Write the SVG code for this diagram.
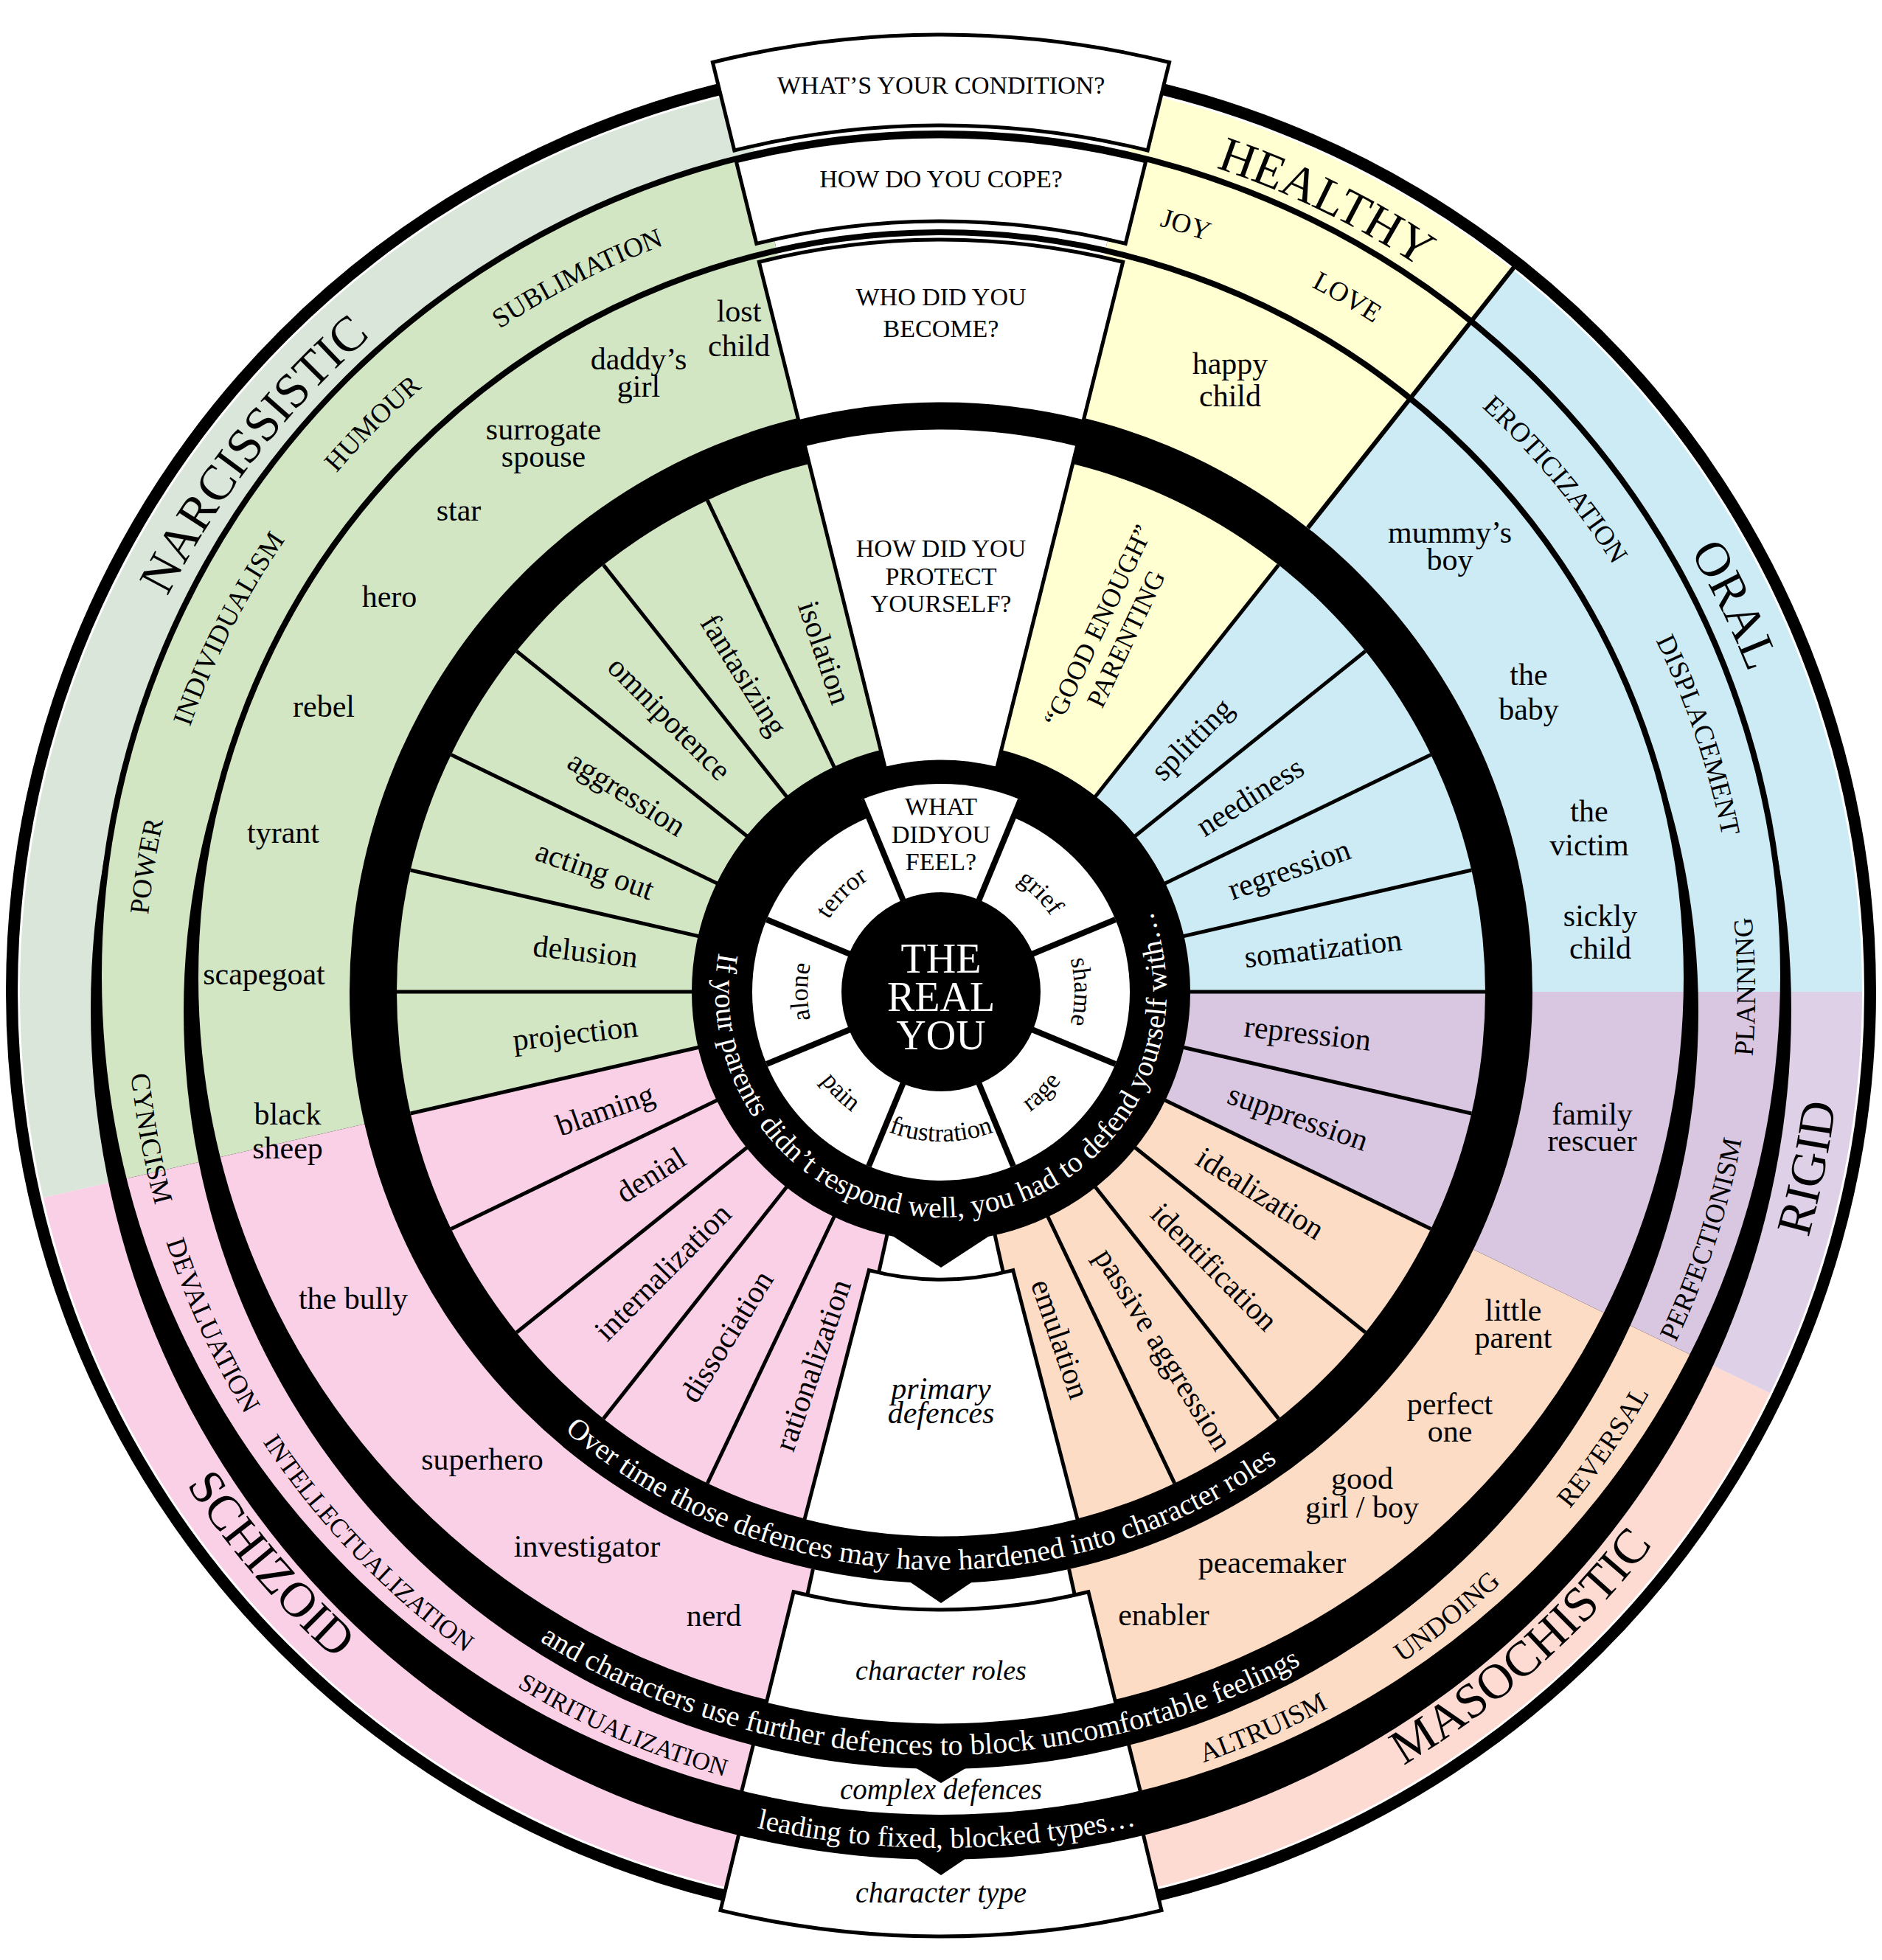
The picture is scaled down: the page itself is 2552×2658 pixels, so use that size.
<svg xmlns="http://www.w3.org/2000/svg" width="2552" height="2658" viewBox="0 0 2552 2658">
<style>
.t{font-family:"Liberation Serif","Times New Roman",serif;fill:#000}
.wt{fill:#fff}
.lb{font-size:42px}
.pl{font-size:42px}
.cl{font-size:37px}
.ty{font-size:67px}
.em{font-size:35px}
.bd{font-size:40px}
.q{font-size:34px}
.it{font-style:italic}
.box{fill:#fff;stroke:#000;stroke-width:5}
.k{fill:#000}
</style>
<defs>
<g id="pies">
<path fill="#cdebf4" d="M1276,1345 L2576,1345 A1300,1300 0 0 0 2082.3,325.3 Z"/>
<path fill="#ffffd1" d="M1276,1345 L2082.3,325.3 A1300,1300 0 0 0 1557.3,75.8 Z"/>
<path fill="#ffffff" d="M1276,1345 L1557.3,75.8 A1300,1300 0 0 0 994.7,75.8 Z"/>
<path fill="#d3e6c4" d="M1276,1345 L994.7,75.8 A1300,1300 0 0 0 8.9,1635.6 Z"/>
<path fill="#fad0e7" d="M1276,1345 L8.9,1635.6 A1300,1300 0 0 0 994.7,2614.2 Z"/>
<path fill="#ffffff" d="M1276,1345 L994.7,2614.2 A1300,1300 0 0 0 1557.3,2614.2 Z"/>
<path fill="#fddcc5" d="M1276,1345 L1557.3,2614.2 A1300,1300 0 0 0 2446.1,1911.5 Z"/>
<path fill="#d9c6e1" d="M1276,1345 L2446.1,1911.5 A1300,1300 0 0 0 2576,1345 Z"/>
</g>
<clipPath id="cO"><circle cx="1276" cy="1345" r="1249"/></clipPath>
<clipPath id="cC"><circle cx="1276" cy="1323" r="1142"/></clipPath>
<clipPath id="cR"><circle cx="1276" cy="1326" r="1011"/></clipPath>
<clipPath id="cP"><circle cx="1276" cy="1345" r="738"/></clipPath>
<line id="ray" x1="1276" y1="1345" x2="2014" y2="1345" stroke="#000" stroke-width="5"/>
<line id="eray" x1="1276" y1="1345" x2="1532" y2="1345" stroke="#000" stroke-width="8"/>
<line id="eray2" x1="1276" y1="1345" x2="1558" y2="1345" stroke="#000" stroke-width="8"/>
<path id="e_cw" d="M1276,1526 A181,181 0 1 1 1276,1164 A181,181 0 1 1 1276,1526"/>
<path id="e_ccw" d="M1276,1142 A203,203 0 1 0 1276,1548 A203,203 0 1 0 1276,1142"/>
<path id="b1" d="M1276,1039 A306,306 0 1 0 1276,1651 A306,306 0 1 0 1276,1039"/>
<path id="bt" d="M1276,561 A784,784 0 1 0 1276,2129 A784,784 0 1 0 1276,561"/>
<path id="b2" d="M1276,310 A1035,1035 0 1 0 1276,2380 A1035,1035 0 1 0 1276,310"/>
<path id="b3" d="M1276,184 A1161,1161 0 1 0 1276,2506 A1161,1161 0 1 0 1276,184"/>
<path id="c_cw" d="M1276,2425 A1080,1080 0 1 1 1276,265 A1080,1080 0 1 1 1276,2425"/>
<path id="c_ccw" d="M1276,241 A1104,1104 0 1 0 1276,2449 A1104,1104 0 1 0 1276,241"/>
<path id="o_cw" d="M1276,2523 A1178,1178 0 1 1 1276,167 A1178,1178 0 1 1 1276,2523"/>
<path id="o_ccw" d="M1276,123 A1222,1222 0 1 0 1276,2567 A1222,1222 0 1 0 1276,123"/>
</defs>
<rect width="2552" height="2658" fill="#fff"/>

<g id="ring-types">
<g clip-path="url(#cO)">
<path fill="#cdebf4" d="M1276,1345 L2576,1345 A1300,1300 0 0 0 2082.3,325.3 Z"/>
<path fill="#ffffd1" d="M1276,1345 L2082.3,325.3 A1300,1300 0 0 0 1557.3,75.8 Z"/>
<path fill="#d9e6d9" d="M1276,1345 L994.7,75.8 A1300,1300 0 0 0 8.9,1635.6 Z"/>
<path fill="#fad0e7" d="M1276,1345 L8.9,1635.6 A1300,1300 0 0 0 994.7,2614.2 Z"/>
<path fill="#fddbd3" d="M1276,1345 L1557.3,2614.2 A1300,1300 0 0 0 2446.1,1911.5 Z"/>
<path fill="#ded1e7" d="M1276,1345 L2446.1,1911.5 A1300,1300 0 0 0 2576,1345 Z"/>
</g>
<circle cx="1276" cy="1345" r="1260" fill="none" stroke="#000" stroke-width="16"/>
<path id="box-condition" class="box" d="M1585.6,84.5 A1298,1298 0 0 0 966.4,84.5 L995.8,204 A1175,1175 0 0 1 1556.2,204 Z"/>
<path id="box-type" class="box" d="M977,2590.6 A1281,1281 0 0 0 1575,2590.6 L1544.4,2463.3 A1150,1150 0 0 1 1007.6,2463.3 Z"/>
<circle class="k" cx="1276" cy="1369" r="1153"/>
</g>

<g id="ring-complex">
<g clip-path="url(#cC)">
<use href="#pies"/>
<path class="box" d="M985.7,2509.4 A1200,1200 0 0 0 1566.3,2509.4 L1526.4,2349.3 A1035,1035 0 0 1 1025.6,2349.3 Z"/>
</g>
<circle cx="1276" cy="1323" r="1142" fill="none" stroke="#000" stroke-width="8"/>
<circle class="k" cx="1276" cy="1372" r="1027"/>
</g>

<g id="ring-roles">
<g clip-path="url(#cR)"><use href="#pies"/></g>
<circle cx="1276" cy="1326" r="1011" fill="none" stroke="#000" stroke-width="8"/>
<line x1="1102.4" y1="2128" x2="1094.2" y2="2165.1" stroke="#000" stroke-width="5"/>
<line x1="1449.6" y1="2128" x2="1457.8" y2="2165.1" stroke="#000" stroke-width="5"/>
<path id="box-roles" class="box" d="M1038.7,2311.2 A995,995 0 0 0 1513.3,2311.2 L1475.9,2158.8 A838,838 0 0 1 1076.1,2158.8 Z"/>
<line x1="1773.4" y1="715.9" x2="2057.5" y2="356.7" stroke="#000" stroke-width="6"/>
<circle class="k" cx="1276" cy="1345" r="802"/>
</g>

<g id="ring-primary">
<g clip-path="url(#cP)"><use href="#pies"/></g>
<use href="#ray"/>
<use href="#ray" transform="rotate(-12.917 1276 1345)"/>
<use href="#ray" transform="rotate(-25.833 1276 1345)"/>
<use href="#ray" transform="rotate(-38.75 1276 1345)"/>
<use href="#ray" transform="rotate(-51.667 1276 1345)"/>
<use href="#ray" transform="rotate(-77.5 1276 1345)"/>
<use href="#ray" transform="rotate(-102.5 1276 1345)"/>
<use href="#ray" transform="rotate(-115.417 1276 1345)"/>
<use href="#ray" transform="rotate(-128.333 1276 1345)"/>
<use href="#ray" transform="rotate(-141.25 1276 1345)"/>
<use href="#ray" transform="rotate(-154.167 1276 1345)"/>
<use href="#ray" transform="rotate(-167.083 1276 1345)"/>
<use href="#ray" transform="rotate(-180 1276 1345)"/>
<use href="#ray" transform="rotate(-192.917 1276 1345)"/>
<use href="#ray" transform="rotate(-205.833 1276 1345)"/>
<use href="#ray" transform="rotate(-218.75 1276 1345)"/>
<use href="#ray" transform="rotate(-231.667 1276 1345)"/>
<use href="#ray" transform="rotate(-244.583 1276 1345)"/>
<use href="#ray" transform="rotate(-257.5 1276 1345)"/>
<use href="#ray" transform="rotate(-282.5 1276 1345)"/>
<use href="#ray" transform="rotate(-295.417 1276 1345)"/>
<use href="#ray" transform="rotate(-308.333 1276 1345)"/>
<use href="#ray" transform="rotate(-321.25 1276 1345)"/>
<use href="#ray" transform="rotate(-334.167 1276 1345)"/>
<use href="#ray" transform="rotate(-347.083 1276 1345)"/>
<circle class="k" cx="1276" cy="1345" r="338"/>
</g>

<g id="ring-feelings">
<circle cx="1276" cy="1345" r="256" fill="#fff"/>
<path fill="#fff" d="M1276,1345 L1383.9,1084.5 A282,282 0 0 0 1168.1,1084.5 Z"/>
<use href="#eray" transform="rotate(-22.5 1276 1345)"/>
<use href="#eray2" transform="rotate(-67.5 1276 1345)"/>
<use href="#eray2" transform="rotate(-112.5 1276 1345)"/>
<use href="#eray" transform="rotate(-157.5 1276 1345)"/>
<use href="#eray" transform="rotate(-202.5 1276 1345)"/>
<use href="#eray" transform="rotate(-247.5 1276 1345)"/>
<use href="#eray" transform="rotate(-292.5 1276 1345)"/>
<use href="#eray" transform="rotate(-337.5 1276 1345)"/>
<circle class="k" cx="1276" cy="1345" r="135"/>
</g>

<g id="question-boxes">
<path id="box-protect" class="box" d="M1461.1,602.7 A765,765 0 0 0 1090.9,602.7 L1200.5,1042.3 A312,312 0 0 1 1351.5,1042.3 Z"/>
<path id="box-become" class="box" d="M1522.7,355.3 A1020,1020 0 0 0 1029.3,355.3 L1083.2,571.7 A797,797 0 0 1 1468.8,571.7 Z"/>
<path id="box-cope" class="box" d="M1553.7,218.8 A1160,1160 0 0 0 998.3,218.8 L1025.8,330.4 A1045,1045 0 0 1 1526.2,330.4 Z"/>
<path id="box-primary" class="box" d="M1090.5,2062.4 A741,741 0 0 0 1461.5,2062.4 L1373.7,1722.6 A390,390 0 0 1 1178.3,1722.6 Z"/>
</g>

<g id="connectors">
<polygon class="k" points="1198,1668 1354,1668 1276,1719"/>
<polygon class="k" points="1226,2140 1326,2140 1276,2174"/>
<polygon class="k" points="1236,2394 1316,2394 1276,2418"/>
<polygon class="k" points="1236,2516 1316,2516 1276,2543"/>
</g>

<g id="center" class="t" text-anchor="middle">
<text class="wt" x="1276" y="1319" font-size="56">THE</text>
<text class="wt" x="1276" y="1371" font-size="56">REAL</text>
<text class="wt" x="1276" y="1423" font-size="56">YOU</text>
<text class="q" x="1276" y="1105">WHAT</text>
<text class="q" x="1276" y="1143">DIDYOU</text>
<text class="q" x="1276" y="1180">FEEL?</text>
</g>

<g id="feelings" class="t em" text-anchor="middle">
<text><textPath href="#e_cw" startOffset="37.5%">terror</textPath></text>
<text><textPath href="#e_cw" startOffset="62.5%">grief</textPath></text>
<text><textPath href="#e_cw" startOffset="75%">shame</textPath></text>
<text><textPath href="#e_cw" startOffset="25%">alone</textPath></text>
<text><textPath href="#e_ccw" startOffset="62.5%">rage</textPath></text>
<text><textPath href="#e_ccw" startOffset="50%">frustration</textPath></text>
<text><textPath href="#e_ccw" startOffset="37.5%">pain</textPath></text>
</g>

<g id="band-texts" class="t bd wt" text-anchor="middle">
<g id="band-defend">
<text class="wt"><textPath href="#b1" startOffset="440.3">If</textPath></text>
<text class="wt"><textPath href="#b1" startOffset="500.3">your</textPath></text>
<text class="wt"><textPath href="#b1" startOffset="604.7">parents</textPath></text>
<text class="wt"><textPath href="#b1" startOffset="720.3">didn’t</textPath></text>
<text class="wt"><textPath href="#b1" startOffset="841.4">respond</textPath></text>
<text class="wt"><textPath href="#b1" startOffset="954.1">well,</textPath></text>
<text class="wt"><textPath href="#b1" startOffset="1033.6">you</textPath></text>
<text class="wt"><textPath href="#b1" startOffset="1102.4">had</textPath></text>
<text class="wt"><textPath href="#b1" startOffset="1156.9">to</textPath></text>
<text class="wt"><textPath href="#b1" startOffset="1236.9">defend</textPath></text>
<text class="wt"><textPath href="#b1" startOffset="1366.8">yourself</textPath></text>
<text class="wt"><textPath href="#b1" startOffset="1497.9">with…</textPath></text>
</g>
<g id="band-roles">
<text class="wt"><textPath href="#bt" startOffset="1947">Over</textPath></text>
<text class="wt"><textPath href="#bt" startOffset="2032.5">time</textPath></text>
<text class="wt"><textPath href="#bt" startOffset="2120.3">those</textPath></text>
<text class="wt"><textPath href="#bt" startOffset="2242.5">defences</textPath></text>
<text class="wt"><textPath href="#bt" startOffset="2356.9">may</textPath></text>
<text class="wt"><textPath href="#bt" startOffset="2439.1">have</textPath></text>
<text class="wt"><textPath href="#bt" startOffset="2560.1">hardened</textPath></text>
<text class="wt"><textPath href="#bt" startOffset="2674.6">into</textPath></text>
<text class="wt"><textPath href="#bt" startOffset="2789">character</textPath></text>
<text class="wt"><textPath href="#bt" startOffset="2911.1">roles</textPath></text>
</g>
<g id="band-further">
<text class="wt"><textPath href="#b2" startOffset="2707">and</textPath></text>
<text class="wt"><textPath href="#b2" startOffset="2826.9">characters</textPath></text>
<text class="wt"><textPath href="#b2" startOffset="2944.6">use</textPath></text>
<text class="wt"><textPath href="#b2" startOffset="3035.7">further</textPath></text>
<text class="wt"><textPath href="#b2" startOffset="3170.1">defences</textPath></text>
<text class="wt"><textPath href="#b2" startOffset="3265.6">to</textPath></text>
<text class="wt"><textPath href="#b2" startOffset="3335.6">block</textPath></text>
<text class="wt"><textPath href="#b2" startOffset="3506.7">uncomfortable</textPath></text>
<text class="wt"><textPath href="#b2" startOffset="3696.7">feelings</textPath></text>
</g>
<g id="band-types" font-size="39">
<text class="wt"><textPath href="#b3" startOffset="3452.7">leading</textPath></text>
<text class="wt"><textPath href="#b3" startOffset="3535">to</textPath></text>
<text class="wt"><textPath href="#b3" startOffset="3604.9">fixed,</textPath></text>
<text class="wt"><textPath href="#b3" startOffset="3721.3">blocked</textPath></text>
<text class="wt"><textPath href="#b3" startOffset="3853.5">types…</textPath></text>
</g>
</g>

<g id="questions" class="t q" text-anchor="middle">
<text x="1276" y="127">WHAT’S YOUR CONDITION?</text>
<text x="1276" y="254">HOW DO YOU COPE?</text>
<text x="1276" y="414">WHO DID YOU</text>
<text x="1276" y="457">BECOME?</text>
<text x="1276" y="755">HOW DID YOU</text>
<text x="1276" y="793">PROTECT</text>
<text x="1276" y="830">YOURSELF?</text>
<text class="it" x="1276" y="1897" font-size="42">primary</text>
<text class="it" x="1276" y="1930" font-size="42">defences</text>
<text class="it" x="1276" y="2278" font-size="38">character roles</text>
<text class="it" x="1276" y="2440" font-size="39">complex defences</text>
<text class="it" x="1276" y="2580" font-size="40">character type</text>
</g>

<g id="primary-defences" class="t pl">
<g text-anchor="start">
<text transform="translate(1687.4,1298.4) rotate(-6.458)" dy="0.33em">somatization</text>
<text transform="translate(1666.6,1207.7) rotate(-19.375)" dy="0.33em">regression</text>
<text transform="translate(1626,1123.9) rotate(-32.292)" dy="0.33em">neediness</text>
<text transform="translate(1567.7,1051.2) rotate(-45.208)" dy="0.33em">splitting</text>
<text transform="translate(1687.4,1391.6) rotate(6.458)" dy="0.33em">repression</text>
<text transform="translate(1666.6,1482.3) rotate(19.375)" dy="0.33em">suppression</text>
<text transform="translate(1626,1566.1) rotate(32.292)" dy="0.33em">idealization</text>
<text transform="translate(1567.7,1638.8) rotate(45.208)" dy="0.33em">identification</text>
<text transform="translate(1494.6,1696.6) rotate(58.125)" dy="0.33em">passive aggression</text>
<text transform="translate(1410.5,1736.6) rotate(71.042)" dy="0.33em">emulation</text>
</g>
<g text-anchor="end">
<text transform="translate(1141.5,953.4) rotate(71.042)" dy="0.33em">isolation</text>
<text transform="translate(1057.4,993.4) rotate(58.125)" dy="0.33em">fantasizing</text>
<text transform="translate(984.3,1051.2) rotate(45.208)" dy="0.33em">omnipotence</text>
<text transform="translate(926,1123.9) rotate(32.292)" dy="0.33em">aggression</text>
<text transform="translate(885.4,1207.7) rotate(19.375)" dy="0.33em">acting out</text>
<text transform="translate(864.6,1298.4) rotate(6.458)" dy="0.33em">delusion</text>
<text transform="translate(864.6,1391.6) rotate(-6.458)" dy="0.33em">projection</text>
<text transform="translate(885.4,1482.3) rotate(-19.375)" dy="0.33em">blaming</text>
<text transform="translate(926,1566.1) rotate(-32.292)" dy="0.33em">denial</text>
<text transform="translate(984.3,1638.8) rotate(-45.208)" dy="0.33em">internalization</text>
<text transform="translate(1038.4,1727.2) rotate(-58.125)" dy="0.33em">dissociation</text>
<text transform="translate(1141.5,1736.6) rotate(-71.042)" dy="0.33em">rationalization</text>
</g>
<g transform="translate(1507.8,857.3) rotate(-64.58)" text-anchor="middle" font-size="36">
<text x="0" y="-9">“GOOD ENOUGH”</text>
<text x="0" y="33">PARENTING</text>
</g>
</g>

<g id="roles" class="t lb" text-anchor="middle">
<text x="1002" y="436">lost</text><text x="1002" y="483">child</text>
<text x="866" y="501">daddy’s</text><text x="866" y="538">girl</text>
<text x="737" y="596">surrogate</text><text x="737" y="633">spouse</text>
<text x="622" y="706">star</text>
<text x="528" y="823">hero</text>
<text x="439" y="972">rebel</text>
<text x="384" y="1143">tyrant</text>
<text x="358" y="1335">scapegoat</text>
<text x="390" y="1525">black</text><text x="390" y="1571">sheep</text>
<text x="479" y="1775">the bully</text>
<text x="654" y="1993">superhero</text>
<text x="796" y="2111">investigator</text>
<text x="968" y="2205">nerd</text>
<text x="1578" y="2204">enabler</text>
<text x="1725" y="2133">peacemaker</text>
<text x="1847" y="2019">good</text><text x="1847" y="2058">girl / boy</text>
<text x="1966" y="1918">perfect</text><text x="1966" y="1955">one</text>
<text x="2052" y="1791">little</text><text x="2052" y="1828">parent</text>
<text x="2159" y="1525">family</text><text x="2159" y="1561">rescuer</text>
<text x="2170" y="1256">sickly</text><text x="2170" y="1300">child</text>
<text x="2155" y="1114">the</text><text x="2155" y="1160">victim</text>
<text x="2073" y="929">the</text><text x="2073" y="976">baby</text>
<text x="1966" y="736">mummy’s</text><text x="1966" y="773">boy</text>
<text x="1668" y="507">happy</text><text x="1668" y="551">child</text>
</g>

<g id="complex-defences" class="t cl" text-anchor="middle">
<text><textPath href="#c_cw" startOffset="42.5%">SUBLIMATION</textPath></text>
<text><textPath href="#c_cw" startOffset="37.5%">HUMOUR</textPath></text>
<text><textPath href="#c_cw" startOffset="32.5%">INDIVIDUALISM</textPath></text>
<text><textPath href="#c_cw" startOffset="27.5%">POWER</textPath></text>
<text><textPath href="#c_ccw" startOffset="27.92%">CYNICISM</textPath></text>
<text><textPath href="#c_ccw" startOffset="31.83%">DEVALUATION</textPath></text>
<text font-size="35"><textPath href="#c_ccw" startOffset="37.2%">INTELLECTUALIZATION</textPath></text>
<text font-size="34"><textPath href="#c_ccw" startOffset="43.5%">SPIRITUALIZATION</textPath></text>
<text><textPath href="#c_ccw" startOffset="56.56%">ALTRUISM</textPath></text>
<text><textPath href="#c_ccw" startOffset="60.83%">UNDOING</textPath></text>
<text><textPath href="#c_ccw" startOffset="65.42%">REVERSAL</textPath></text>
<text><textPath href="#c_ccw" startOffset="70%">PERFECTIONISM</textPath></text>
<text><textPath href="#c_ccw" startOffset="75.1%">PLANNING</textPath></text>
<text><textPath href="#c_cw" startOffset="69.8%">DISPLACEMENT</textPath></text>
<text><textPath href="#c_cw" startOffset="63.94%">EROTICIZATION</textPath></text>
<text><textPath href="#c_cw" startOffset="58.42%">LOVE</textPath></text>
<text><textPath href="#c_cw" startOffset="54.92%">JOY</textPath></text>
</g>

<g id="character-types" class="t ty" text-anchor="middle">
<text><textPath href="#o_cw" startOffset="35.56%">NARCISSISTIC</textPath></text>
<text><textPath href="#o_cw" startOffset="57.22%">HEALTHY</textPath></text>
<text><textPath href="#o_cw" startOffset="67.78%">ORAL</textPath></text>
<text><textPath href="#o_ccw" startOffset="71.81%">RIGID</textPath></text>
<text><textPath href="#o_ccw" startOffset="61.53%">MASOCHISTIC</textPath></text>
<text><textPath href="#o_ccw" startOffset="36.25%">SCHIZOID</textPath></text>
</g>
</svg>
